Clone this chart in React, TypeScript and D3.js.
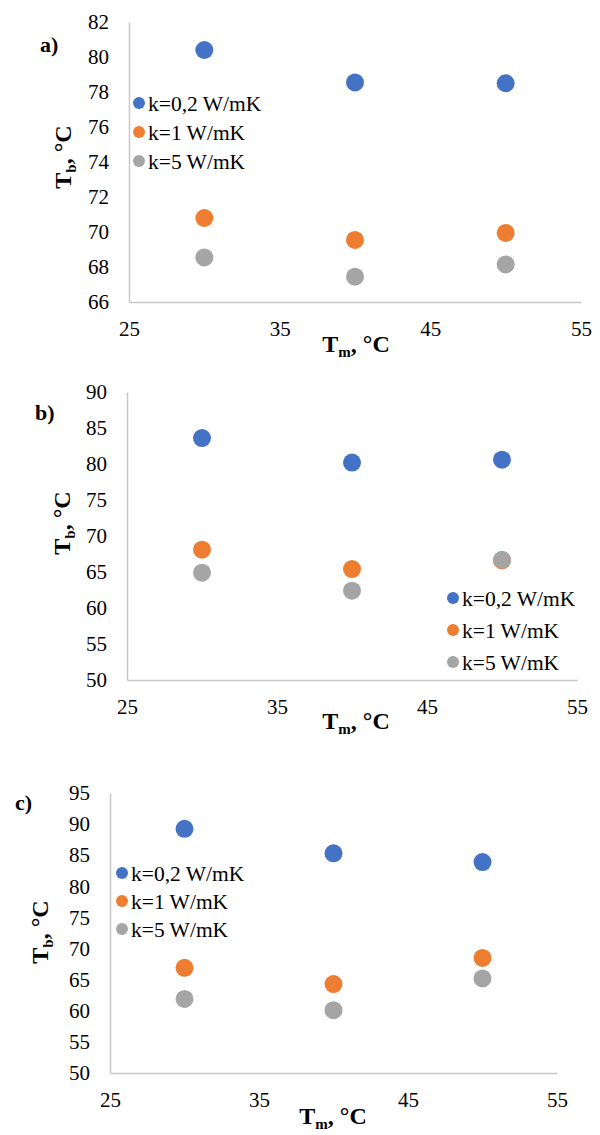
import React, { useEffect, useRef } from "react";
import * as d3 from "d3";

// melting temperature (x) for every series
const tmValues = [30, 40, 50];
const seriesNames = ["k=0,2 W/mK", "k=1 W/mK", "k=5 W/mK"];
const seriesColors = ["#4472C4", "#ED7D31", "#A5A5A5"];

// panel a)
const aK02 = [80.4, 78.55, 78.5];
const aK1 = [70.8, 69.55, 69.95];
const aK5 = [68.55, 67.45, 68.15];
const aYTicks = [66, 68, 70, 72, 74, 76, 78, 80, 82];

// panel b)
const bK02 = [83.6, 80.2, 80.6];
const bK1 = [68.1, 65.4, 66.6];
const bK5 = [64.9, 62.4, 66.7];
const bYTicks = [50, 55, 60, 65, 70, 75, 80, 85, 90];

// panel c)
const cK02 = [89.25, 85.3, 83.9];
const cK1 = [66.9, 64.3, 68.5];
const cK5 = [61.9, 60.1, 65.2];
const cYTicks = [50, 55, 60, 65, 70, 75, 80, 85, 90, 95];

const xTicks = [25, 35, 45, 55];

const panels = [
  {
    tag: "a)", series: [aK02, aK1, aK5], yTicks: aYTicks,
    left: 129, right: 581, top: 22, bottom: 302,
    tagX: 40, tagY: 52, yTitleX: 63, yTitleY: 157, xTitleX: 356, xTitleY: 352,
    legX: 139, legY: 103, legGap: 29,
  },
  {
    tag: "b)", series: [bK02, bK1, bK5], yTicks: bYTicks,
    left: 127, right: 577, top: 392, bottom: 680,
    tagX: 35, tagY: 420, yTitleX: 62, yTitleY: 523, xTitleX: 356, xTitleY: 729,
    legX: 453, legY: 598, legGap: 32,
  },
  {
    tag: "c)", series: [cK02, cK1, cK5], yTicks: cYTicks,
    left: 110, right: 557, top: 793, bottom: 1073,
    tagX: 15, tagY: 810, yTitleX: 40, yTitleY: 932, xTitleX: 333, xTitleY: 1124,
    legX: 122, legY: 873, legGap: 28,
  },
];

const font = "'Liberation Serif', 'Times New Roman', serif";

function App() {
  const ref = useRef<SVGSVGElement>(null);

  useEffect(() => {
    const svg = d3.select(ref.current);
    svg.selectAll("*").remove();

    panels.forEach((p) => {
      const g = svg.append("g");
      const x = d3.scaleLinear().domain([25, 55]).range([p.left, p.right]);
      const yExt = d3.extent(p.yTicks) as [number, number];
      const y = d3.scaleLinear().domain(yExt).range([p.bottom, p.top]);

      // axes
      const yAxis = g
        .append("g")
        .attr("transform", `translate(${p.left},0)`)
        .call(d3.axisLeft(y).tickValues(p.yTicks).tickSize(0).tickPadding(20));
      const xAxis = g
        .append("g")
        .attr("transform", `translate(0,${p.bottom})`)
        .call(d3.axisBottom(x).tickValues(xTicks).tickSize(0).tickPadding(19));
      [yAxis, xAxis].forEach((ax) => {
        ax.select(".domain").attr("stroke", "#c8c8c8").attr("stroke-width", 1.5);
        ax.selectAll("text")
          .attr("fill", "#000")
          .style("font-family", font)
          .style("font-size", "21px");
      });

      // points
      p.series.forEach((vals, si) => {
        g.selectAll(null)
          .data(vals)
          .join("circle")
          .attr("cx", (d, i) => x(tmValues[i]))
          .attr("cy", (d) => y(d))
          .attr("r", 9)
          .attr("fill", seriesColors[si]);
      });

      // legend
      seriesNames.forEach((name, si) => {
        const ly = p.legY + si * p.legGap;
        g.append("circle")
          .attr("cx", p.legX)
          .attr("cy", ly)
          .attr("r", 6)
          .attr("fill", seriesColors[si]);
        g.append("text")
          .attr("x", p.legX + 9)
          .attr("y", ly)
          .attr("dy", "0.35em")
          .style("font-family", font)
          .style("font-size", "21.5px")
          .text(name);
      });

      // panel tag
      g.append("text")
        .attr("x", p.tagX)
        .attr("y", p.tagY)
        .style("font-family", font)
        .style("font-size", "22px")
        .style("font-weight", "bold")
        .text(p.tag);

      // x title
      const xt = g
        .append("text")
        .attr("x", p.xTitleX)
        .attr("y", p.xTitleY)
        .attr("text-anchor", "middle")
        .style("font-family", font)
        .style("font-size", "24px")
        .style("font-weight", "bold");
      xt.append("tspan").text("T");
      xt.append("tspan").attr("dy", 5).style("font-size", "15px").text("m");
      xt.append("tspan").attr("dy", -5).text(", °C");

      // y title
      const yt = g
        .append("text")
        .attr("transform", `translate(${p.yTitleX},${p.yTitleY}) rotate(-90)`)
        .attr("text-anchor", "middle")
        .attr("dy", "0.35em")
        .style("font-family", font)
        .style("font-size", "24px")
        .style("font-weight", "bold");
      yt.append("tspan").text("T");
      yt.append("tspan").attr("dy", 5).style("font-size", "15px").text("b");
      yt.append("tspan").attr("dy", -5).text(", °C");
    });
  }, []);

  return (
    <svg
      ref={ref}
      width={600}
      height={1135}
      style={{ position: "absolute", left: 0, top: 0, background: "#fff" }}
    />
  );
}

export default App;
